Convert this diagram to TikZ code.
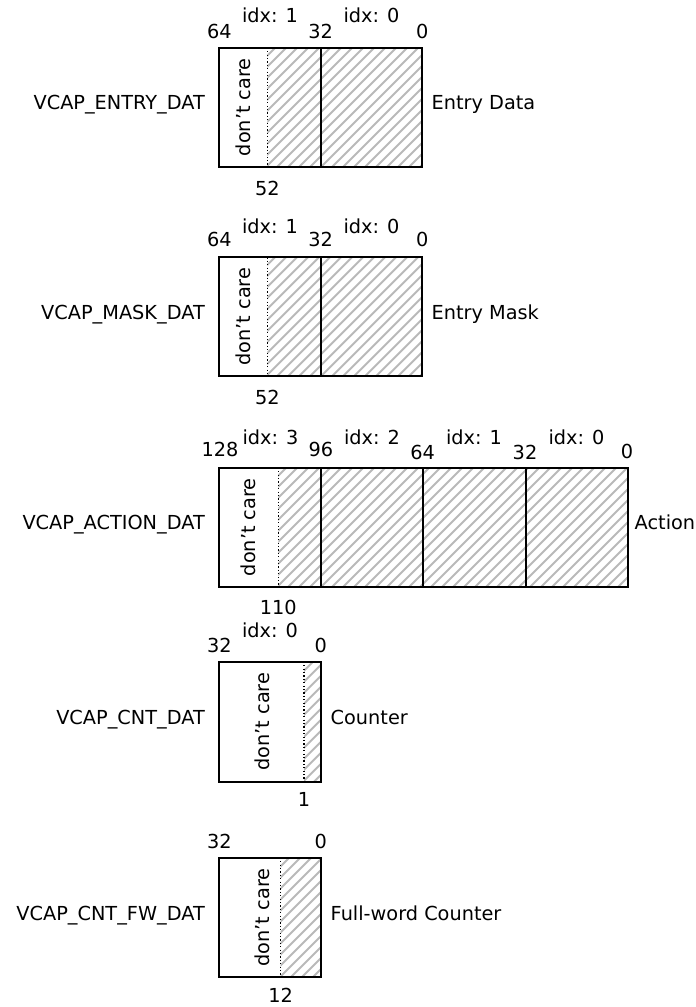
\documentclass[tikz,border=0pt]{standalone}
\usepackage{fontspec}
\setmainfont{DejaVu Sans}
\newcommand\hatchbox[4]{%
  \begin{scope}
    \clip (#1,#2) rectangle (#3,#4);
    \foreach \k in {0,...,60} {\draw[hatchline] ({#1-125+\k*11},{#4+3}) -- ++(130,-130);}
  \end{scope}}
\begin{document}
\begin{tikzpicture}[x=1pt,y=-1pt,
  font=\fontsize{19.3}{23}\selectfont,
  frame/.style={draw=black, line width=2pt},
  divider/.style={draw=black, line width=2pt},
  dotline/.style={draw=black, line width=1.2pt, dash pattern=on 1.2pt off 2.2pt},
  hatchline/.style={draw=gray!55, line width=2pt},
  lbl/.style={inner sep=0pt, anchor=base},
  dc/.style={inner sep=0pt, rotate=90, anchor=center},
  lname/.style={inner sep=0pt, anchor=mid east},
  rname/.style={inner sep=0pt, anchor=mid west}]
\useasboundingbox (0,0) rectangle (696,1007);

% ---------- Block 1: VCAP_ENTRY_DAT ----------
\hatchbox{267.3}{47.7}{422.3}{166.7}
\draw[dotline] (267.3,47.7) -- (267.3,166.7);
\draw[divider] (320.7,47.7) -- (320.7,166.7);
\draw[frame] (219.3,47.7) rectangle (422.3,166.7);
\node[lbl] (a64) at (219.3,38.3) {64};
\node[lbl] (a32) at (320.7,38.3) {32};
\node[lbl] (a0) at (422.3,38.3) {0};
\node[lbl] (ai1) at (270,22.7) {idx: 1};
\node[lbl] (ai0) at (371.5,22.7) {idx: 0};
\node[lbl] (a52) at (267.3,195) {52};
\node[dc] (adc) at (243.3,107.2) {don’t care};
\node[lname] (aname) at (205,107.2) {VCAP\_ENTRY\_DAT};
\node[rname] (adesc) at (431.5,107.2) {Entry Data};

% ---------- Block 2: VCAP_MASK_DAT ----------
\hatchbox{267.3}{257.3}{422.3}{376}
\draw[dotline] (267.3,257.3) -- (267.3,376);
\draw[divider] (320.7,257.3) -- (320.7,376);
\draw[frame] (219.3,257.3) rectangle (422.3,376);
\node[lbl] (b64) at (219.3,246.7) {64};
\node[lbl] (b32) at (320.7,246.7) {32};
\node[lbl] (b0) at (422.3,246.7) {0};
\node[lbl] (bi1) at (270,233.3) {idx: 1};
\node[lbl] (bi0) at (371.5,233.3) {idx: 0};
\node[lbl] (b52) at (267.3,404.3) {52};
\node[dc] (bdc) at (243.3,316.7) {don’t care};
\node[lname] (bname) at (205,316.7) {VCAP\_MASK\_DAT};
\node[rname] (bdesc) at (431.5,316.7) {Entry Mask};

% ---------- Block 3: VCAP_ACTION_DAT ----------
\hatchbox{278.3}{467.7}{627.7}{586.7}
\draw[dotline] (278.3,467.7) -- (278.3,586.7);
\draw[divider] (321,467.7) -- (321,586.7);
\draw[divider] (422.7,467.7) -- (422.7,586.7);
\draw[divider] (526,467.7) -- (526,586.7);
\draw[frame] (219.3,467.7) rectangle (627.7,586.7);
\node[lbl] (c128) at (220,456.7) {128};
\node[lbl] (c96) at (321,456.7) {96};
\node[lbl] (c64) at (422.7,459) {64};
\node[lbl] (c32) at (525,459) {32};
\node[lbl] (c0) at (627,458) {0};
\node[lbl] (ci3) at (270.5,444) {idx: 3};
\node[lbl] (ci2) at (372,444) {idx: 2};
\node[lbl] (ci1) at (474,444) {idx: 1};
\node[lbl] (ci0) at (576.5,444) {idx: 0};
\node[lbl] (c110) at (278.3,614) {110};
\node[dc] (cdc) at (248.8,527.2) {don’t care};
\node[lname] (cname) at (205,527.2) {VCAP\_ACTION\_DAT};
\node[rname] (cdesc) at (634.5,527.2) {Action};

% ---------- Block 4: VCAP_CNT_DAT ----------
\hatchbox{304}{661.7}{320.7}{781.7}
\draw[dotline] (304,661.7) -- (304,781.7);
\draw[frame] (219.3,661.7) rectangle (320.7,781.7);
\node[lbl] (d32) at (219.3,652.7) {32};
\node[lbl] (d0) at (320.7,652.7) {0};
\node[lbl] (di0) at (270,637.3) {idx: 0};
\node[lbl] (d1) at (304,806.7) {1};
\node[dc] (ddc) at (262,721.7) {don’t care};
\node[lname] (dname) at (205,721.7) {VCAP\_CNT\_DAT};
\node[rname] (ddesc) at (330.5,721.7) {Counter};

% ---------- Block 5: VCAP_CNT_FW_DAT ----------
\hatchbox{280.7}{857.7}{320.7}{977.3}
\draw[dotline] (280.7,857.7) -- (280.7,977.3);
\draw[frame] (219.3,857.7) rectangle (320.7,977.3);
\node[lbl] (e32) at (219.3,848.3) {32};
\node[lbl] (e0) at (320.7,848.3) {0};
\node[lbl] (e12) at (280.7,1002.7) {12};
\node[dc] (edc) at (262,917.5) {don’t care};
\node[lname] (ename) at (205,917.5) {VCAP\_CNT\_FW\_DAT};
\node[rname] (edesc) at (330.5,917.5) {Full-word Counter};
\end{tikzpicture}
\end{document}
